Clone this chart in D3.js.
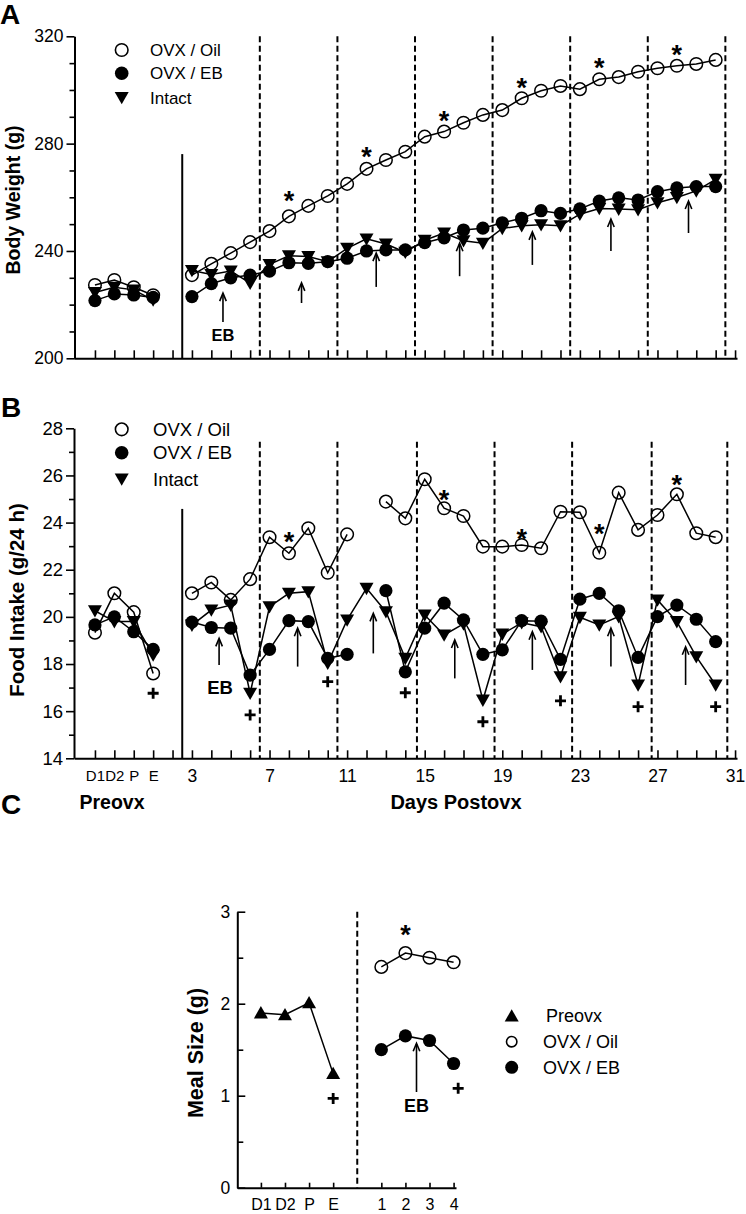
<!DOCTYPE html>
<html><head><meta charset="utf-8">
<script src="https://cdn.jsdelivr.net/npm/d3@7"></script>
<style>
body{margin:0;background:#fff}
svg{display:block}
text{font-family:"Liberation Sans",Arial,Helvetica,sans-serif;fill:#000}
</style>
</head><body>
<svg id="c" width="746" height="1214"></svg>
<script>
// ---------------- DATA ----------------
const preLabels = ["D1", "D2", "P", "E"];
const postDays = [3,4,5,6,7,8,9,10,11,12,13,14,15,16,17,18,19,20,21,22,23,24,25,26,27,28,29,30];
const postTickLabels = ["3","7","11","15","19","23","27","31"];
const postTickDays = [3,7,11,15,19,23,27,31];

// Panel A: body weight (g)
const bwTicks = [200, 240, 280, 320];
const bwMinor = [210,220,230,250,260,270,290,300,310];
const bwPreOil    = [227.3, 229.2, 226.5, 223.5];
const bwPreEB     = [221.5, 224.0, 223.6, 222.7];
const bwPreIntact = [224.5, 226.5, 225.5, 221.7];
const bwPostOil = [231.0,235.2,239.2,243.3,247.4,252.9,256.8,260.5,265.0,270.6,273.9,277.0,282.6,284.5,
                   287.8,290.7,292.5,296.9,299.7,301.5,300.3,304.0,304.8,306.8,308.1,309.0,309.7,311.2];
const bwPostEB  = [223.0,227.8,230.0,231.0,232.5,235.6,235.4,236.0,237.3,240.0,240.4,240.4,243.1,244.9,
                   247.8,248.5,250.5,252.2,255.0,254.0,255.7,258.6,259.8,259.0,262.1,263.5,264.0,264.0];
const bwPostIntact = [232.7,231.2,232.5,228.0,235.0,238.2,237.9,236.0,241.0,244.5,242.6,239.5,244.0,246.7,
                   243.8,242.9,248.4,249.4,249.8,249.4,253.7,255.8,255.6,255.4,258.0,259.9,262.4,266.7];
const bwStars = [{day:8,v:260.9},{day:12,v:277.4},{day:16,v:290.7},{day:20,v:303.1},{day:24,v:310.5},{day:28,v:315.5}];
const bwArrows = [{day:4.6,tip:224.3,tail:213.5},{day:8.65,tip:228.1,tail:220.6},{day:12.5,tip:239.2,tail:226.6},
                  {day:16.8,tip:242.9,tail:230.6},{day:20.55,tip:247.1,tail:234.8},{day:24.6,tip:251.9,tail:240.0},
                  {day:28.6,tip:258.6,tail:246.7}];
const bwDashDays = [6.5,10.5,14.5,18.5,22.5,26.5,30.5];
const bwEB = {day:4.6, v:208.7};

// Panel B: food intake (g/24 h)
const fiTicks = [14,16,18,20,22,24,26,28];
const fiMinor = [15,17,19,21,23,25,27];
const fiPreOil    = [19.33, 21.0, 20.2, 17.6];
const fiPreEB     = [19.66, 20.0, 19.37, 18.62];
const fiPreIntact = [20.26, 19.8, 19.8, 18.38];
const fiPostOil = [21.0,21.46,20.72,21.6,23.38,22.7,23.76,21.87,23.5,null,24.89,24.18,25.84,24.61,
                   24.28,22.98,22.98,23.05,22.91,24.46,24.44,22.72,25.27,23.69,24.32,25.2,23.55,23.38];
const fiPostEB  = [19.78,19.55,19.52,17.53,18.62,19.84,19.8,18.24,18.41,null,21.11,17.67,19.52,20.58,
                   19.87,18.41,18.6,19.84,19.82,18.2,20.75,21.0,20.26,18.28,20.01,20.5,19.9,18.95];
const fiPostIntact = [19.65,20.29,20.5,16.76,20.43,21.0,21.07,18.03,19.87,21.21,20.22,18.24,20.08,19.23,
                   19.7,16.47,19.27,19.75,19.58,17.46,19.98,19.66,20.01,17.11,20.72,19.8,18.31,17.11];
const fiStars = [{day:8,v:23.47},{day:16,v:25.24},{day:20,v:23.6},{day:24,v:23.8},{day:28,v:25.88}];
const fiPlus = [{idx:3,v:16.76},{day:6,v:15.84},{day:10,v:17.25},{day:14,v:16.78},{day:18,v:15.55},
                {day:22,v:16.44},{day:26,v:16.19},{day:30,v:16.19}];
const fiArrows = [{day:4.4,tip:19.09,tail:17.96},{day:8.45,tip:19.52,tail:17.89},{day:12.35,tip:20.15,tail:18.45},
                  {day:16.55,tip:19.02,tail:17.39},{day:20.55,tip:19.37,tail:17.75},{day:24.6,tip:19.52,tail:17.89},
                  {day:28.45,tip:18.73,tail:17.11}];
const fiDashDays = [6.5,10.5,14.6,18.6,22.6,26.7,30.6];
const fiEB = {day:4.45, v:17.0};

// Panel C: meal size (g)
const msPreLabels = ["D1","D2","P","E"];
const msPostLabels = ["1","2","3","4"];
const msTicks = [0,1,2,3];
const msMinor = [0.5,1.5,2.5];
const msPre = [1.9, 1.88, 2.01, 1.24];
const msOil = [2.4, 2.55, 2.5, 2.45];
const msEB  = [1.5, 1.65, 1.6, 1.35];
const msStar = {idx:6, v:2.82};
const msPlus = [{idx:3, v:0.97},{idx:8.19, v:1.08}];
const msArrow = {idx:6.46, tip:1.57, tail:1.04};
const msEB_label = {idx:6.46, v:0.89};

// ---------------- DRAWING ----------------
const svg = d3.select("#c");
const x = d3.scaleLinear().domain([-1.08, 33.1]).range([74, 737]);
const dayIdx = d => d + 2;
const preIdx = preLabels.map((_, i) => i);
const postIdx = postDays.map(dayIdx);
const allTickIdx = d3.range(0, 34);

const yA = d3.scaleLinear().domain([200, 320]).range([358.3, 36.3]);
const yB = d3.scaleLinear().domain([14, 28]).range([758.3, 428.3]);
const xC = d3.scaleLinear().domain([-0.98, 8.1]).range([237.3, 456]);
const yC = d3.scaleLinear().domain([0, 3]).range([1187.7, 911.7]);

const pts = (idxs, vals) => idxs.map((i, k) => ({i, v: vals[k]}));

const shapes = {
  triDown: "M-7,-5.5L7,-5.5L0,6.8Z",
  triUp: "M-7,5.5L7,5.5L0,-6.8Z"
};

function styleAxis(g, sw) {
  g.selectAll(".domain").attr("stroke", "#000").attr("stroke-width", 2);
  g.selectAll(".tick line").attr("stroke", "#000").attr("stroke-width", sw || 1.6);
}

function drawLine(g, data, sx, sy) {
  const line = d3.line().defined(d => d.v != null).x(d => sx(d.i)).y(d => sy(d.v));
  g.append("path").attr("d", line(data)).attr("fill", "none").attr("stroke", "#000").attr("stroke-width", 1.5);
}

function drawMarkers(g, data, sx, sy, kind) {
  const dd = data.filter(d => d.v != null);
  if (kind === "open") {
    g.selectAll(null).data(dd).join("circle")
      .attr("cx", d => sx(d.i)).attr("cy", d => sy(d.v)).attr("r", 6.3)
      .attr("fill", "none").attr("stroke", "#000").attr("stroke-width", 1.5);
  } else if (kind === "filled") {
    g.selectAll(null).data(dd).join("circle")
      .attr("cx", d => sx(d.i)).attr("cy", d => sy(d.v)).attr("r", 6.6).attr("fill", "#000");
  } else {
    g.selectAll(null).data(dd).join("path")
      .attr("d", shapes[kind]).attr("transform", d => `translate(${sx(d.i)},${sy(d.v)})`).attr("fill", "#000");
  }
}

function drawArrow(g, xp, yTip, yTail) {
  g.append("line").attr("x1", xp).attr("x2", xp).attr("y1", yTail).attr("y2", yTip + 1)
    .attr("stroke", "#000").attr("stroke-width", 1.6);
  g.append("path").attr("d", `M${xp-3.3},${yTip+8}L${xp},${yTip}L${xp+3.3},${yTip+8}`)
    .attr("fill", "none").attr("stroke", "#000").attr("stroke-width", 1.6);
}
function drawStar(g, xp, yc, fs) {
  g.append("text").attr("x", xp).attr("y", yc + 0.575 * fs).attr("text-anchor", "middle")
    .attr("font-size", fs).attr("font-weight", "bold").text("*");
}
function drawPlus(g, xp, yp) {
  g.append("path").attr("d", `M${xp-5.5},${yp}H${xp+5.5}M${xp},${yp-5.5}V${yp+5.5}`)
    .attr("stroke", "#000").attr("stroke-width", 2.8).attr("fill", "none");
}
function centeredText(g, xp, yc, fs, txt, bold) {
  g.append("text").attr("x", xp).attr("y", yc + 0.358 * fs).attr("text-anchor", "middle")
    .attr("font-size", fs).attr("font-weight", bold ? "bold" : "normal").text(txt);
}
function vlineDash(g, xp, y1, y2) {
  g.append("line").attr("x1", xp).attr("x2", xp).attr("y1", y1).attr("y2", y2)
    .attr("stroke", "#000").attr("stroke-width", 2).attr("stroke-dasharray", "6,3.5");
}
function legend(g, x0, rows, tx, fs) {
  rows.forEach(r => {
    if (r.kind === "open") g.append("circle").attr("cx", x0).attr("cy", r.y).attr("r", r.r || 6.3)
      .attr("fill", "none").attr("stroke", "#000").attr("stroke-width", 1.6);
    else if (r.kind === "filled") g.append("circle").attr("cx", x0).attr("cy", r.y).attr("r", r.r || 6.8).attr("fill", "#000");
    else g.append("path").attr("d", shapes[r.kind]).attr("transform", `translate(${x0},${r.y})`).attr("fill", "#000");
    g.append("text").attr("x", r.tx || tx).attr("y", r.y + 0.358 * fs).attr("font-size", fs).text(r.label);
  });
}

// ======== PANEL A ========
const gA = svg.append("g");
gA.append("text").attr("x", 0).attr("y", 23.5).attr("font-size", 28).attr("font-weight", "bold").text("A");
bwDashDays.forEach(d => vlineDash(gA, x(dayIdx(d)), yA(320), yA(200)));
gA.append("line").attr("x1", x(4.5)).attr("x2", x(4.5)).attr("y1", yA(276.1)).attr("y2", yA(200))
  .attr("stroke", "#000").attr("stroke-width", 2);
const aY = gA.append("g").attr("transform", "translate(74.5,0)")
  .call(d3.axisLeft(yA).tickValues(bwTicks).tickSize(8).tickSizeOuter(0).tickPadding(3));
aY.selectAll("text").attr("font-size", 17.5);
styleAxis(aY);
const aYm = gA.append("g").attr("transform", "translate(74.5,0)")
  .call(d3.axisLeft(yA).tickValues(bwMinor).tickSize(5).tickFormat(""));
aYm.select(".domain").remove(); styleAxis(aYm);
const aX = gA.append("g").attr("transform", "translate(0,358.3)")
  .call(d3.axisBottom(x).tickValues(allTickIdx).tickSize(-8).tickSizeOuter(0).tickFormat(""));
styleAxis(aX);
gA.append("text").attr("transform", "translate(20,200) rotate(-90)").attr("text-anchor", "middle")
  .attr("font-size", 19.5).attr("font-weight", "bold").text("Body Weight (g)");
[[bwPreIntact, bwPostIntact], [bwPreEB, bwPostEB], [bwPreOil, bwPostOil]].forEach(([a, b]) => {
  drawLine(gA, pts(preIdx, a), x, yA); drawLine(gA, pts(postIdx, b), x, yA);
});
drawMarkers(gA, pts(preIdx, bwPreIntact).concat(pts(postIdx, bwPostIntact)), x, yA, "triDown");
drawMarkers(gA, pts(preIdx, bwPreEB).concat(pts(postIdx, bwPostEB)), x, yA, "filled");
drawMarkers(gA, pts(preIdx, bwPreOil).concat(pts(postIdx, bwPostOil)), x, yA, "open");
bwStars.forEach(s => drawStar(gA, x(dayIdx(s.day)), yA(s.v), 27));
bwArrows.forEach(a => drawArrow(gA, x(dayIdx(a.day)), yA(a.tip), yA(a.tail)));
centeredText(gA, x(dayIdx(bwEB.day)), yA(bwEB.v), 16.5, "EB", true);
legend(gA, 121.7, [{kind:"open", y:50, label:"OVX / Oil"}, {kind:"filled", y:73.3, label:"OVX / EB"},
                   {kind:"triDown", y:97.5, label:"Intact"}], 150, 17);

// ======== PANEL B ========
const gB = svg.append("g");
gB.append("text").attr("x", 1).attr("y", 417).attr("font-size", 28).attr("font-weight", "bold").text("B");
fiDashDays.forEach(d => vlineDash(gB, x(dayIdx(d)), yB(27.43), yB(14)));
gB.append("line").attr("x1", x(4.5)).attr("x2", x(4.5)).attr("y1", yB(24.58)).attr("y2", yB(14))
  .attr("stroke", "#000").attr("stroke-width", 2);
const bY = gB.append("g").attr("transform", "translate(74,0)")
  .call(d3.axisLeft(yB).tickValues(fiTicks).tickSize(8).tickSizeOuter(0).tickPadding(3));
bY.selectAll("text").attr("font-size", 18.5);
styleAxis(bY);
const bYm = gB.append("g").attr("transform", "translate(74,0)")
  .call(d3.axisLeft(yB).tickValues(fiMinor).tickSize(5).tickFormat(""));
bYm.select(".domain").remove(); styleAxis(bYm);
const bX = gB.append("g").attr("transform", "translate(0,758.3)")
  .call(d3.axisBottom(x).tickValues(allTickIdx).tickSize(-8).tickSizeOuter(0).tickFormat(""));
styleAxis(bX);
const bXlPre = gB.append("g").attr("transform", "translate(0,758.3)")
  .call(d3.axisBottom(x).tickValues(preIdx).tickSize(0).tickPadding(12).tickFormat(i => preLabels[i]));
bXlPre.select(".domain").remove(); bXlPre.selectAll("text").attr("font-size", 15);
const bXlPost = gB.append("g").attr("transform", "translate(0,758.3)")
  .call(d3.axisBottom(x).tickValues(postTickDays.map(dayIdx)).tickSize(0).tickPadding(11)
        .tickFormat((d, k) => postTickLabels[k]));
bXlPost.select(".domain").remove(); bXlPost.selectAll("text").attr("font-size", 17.5);
gB.append("text").attr("transform", "translate(24,600) rotate(-90)").attr("text-anchor", "middle")
  .attr("font-size", 20.5).attr("font-weight", "bold").text("Food Intake (g/24 h)");
gB.append("text").attr("x", 112).attr("y", 809).attr("text-anchor", "middle")
  .attr("font-size", 19.5).attr("font-weight", "bold").text("Preovx");
gB.append("text").attr("x", 456).attr("y", 809).attr("text-anchor", "middle")
  .attr("font-size", 20).attr("font-weight", "bold").text("Days Postovx");
[[fiPreIntact, fiPostIntact], [fiPreEB, fiPostEB], [fiPreOil, fiPostOil]].forEach(([a, b]) => {
  drawLine(gB, pts(preIdx, a), x, yB); drawLine(gB, pts(postIdx, b), x, yB);
});
drawMarkers(gB, pts(preIdx, fiPreIntact).concat(pts(postIdx, fiPostIntact)), x, yB, "triDown");
drawMarkers(gB, pts(preIdx, fiPreEB).concat(pts(postIdx, fiPostEB)), x, yB, "filled");
drawMarkers(gB, pts(preIdx, fiPreOil).concat(pts(postIdx, fiPostOil)), x, yB, "open");
fiStars.forEach(s => drawStar(gB, x(dayIdx(s.day)), yB(s.v), 27));
fiPlus.forEach(p => drawPlus(gB, x(p.idx != null ? p.idx : dayIdx(p.day)), yB(p.v)));
fiArrows.forEach(a => drawArrow(gB, x(dayIdx(a.day)), yB(a.tip), yB(a.tail)));
centeredText(gB, x(dayIdx(fiEB.day)), yB(fiEB.v), 18.5, "EB", true);
legend(gB, 121.7, [{kind:"open", y:429.3, label:"OVX / Oil"}, {kind:"filled", y:452.7, label:"OVX / EB"},
                   {kind:"triDown", y:479, label:"Intact"}], 153, 18.5);

// ======== PANEL C ========
const gC = svg.append("g");
gC.append("text").attr("x", 1).attr("y", 814).attr("font-size", 28).attr("font-weight", "bold").text("C");
vlineDash(gC, xC(4), yC(3), yC(0));
const cY = gC.append("g").attr("transform", "translate(237.3,0)")
  .call(d3.axisLeft(yC).tickValues(msTicks).tickSize(-8).tickSizeOuter(0).tickPadding(7).tickFormat(d3.format("d")));
cY.selectAll("text").attr("font-size", 17.5);
styleAxis(cY);
const cYm = gC.append("g").attr("transform", "translate(237.3,0)")
  .call(d3.axisLeft(yC).tickValues(msMinor).tickSize(-6).tickFormat(""));
cYm.select(".domain").remove(); styleAxis(cYm);
const cIdxPre = msPreLabels.map((_, i) => i);
const cIdxPost = msPostLabels.map((_, i) => i + 5);
const cX = gC.append("g").attr("transform", "translate(0,1187.7)")
  .call(d3.axisBottom(xC).tickValues(cIdxPre.concat(cIdxPost)).tickSize(-5).tickSizeOuter(0).tickPadding(11)
        .tickFormat(i => i < 4 ? msPreLabels[i] : msPostLabels[i - 5]));
cX.selectAll("text").attr("font-size", 16);
styleAxis(cX);
gC.append("text").attr("transform", "translate(203,1053) rotate(-90)").attr("text-anchor", "middle")
  .attr("font-size", 21.5).attr("font-weight", "bold").text("Meal Size (g)");
drawLine(gC, pts(cIdxPre, msPre), xC, yC);
drawLine(gC, pts(cIdxPost, msOil), xC, yC);
drawLine(gC, pts(cIdxPost, msEB), xC, yC);
drawMarkers(gC, pts(cIdxPre, msPre), xC, yC, "triUp");
drawMarkers(gC, pts(cIdxPost, msEB), xC, yC, "filled");
drawMarkers(gC, pts(cIdxPost, msOil), xC, yC, "open");
drawStar(gC, xC(msStar.idx), yC(msStar.v), 27);
msPlus.forEach(p => drawPlus(gC, xC(p.idx), yC(p.v)));
drawArrow(gC, xC(msArrow.idx), yC(msArrow.tip), yC(msArrow.tail));
centeredText(gC, xC(msEB_label.idx), yC(msEB_label.v), 18, "EB", true);
legend(gC, 511.7, [{kind:"triUp", y:1016, label:"Preovx", tx:546},
                   {kind:"open", y:1041.7, label:"OVX / Oil", r:5.2},
                   {kind:"filled", y:1067.3, label:"OVX / EB", r:6.5}], 543, 18);
</script>
</body></html>
